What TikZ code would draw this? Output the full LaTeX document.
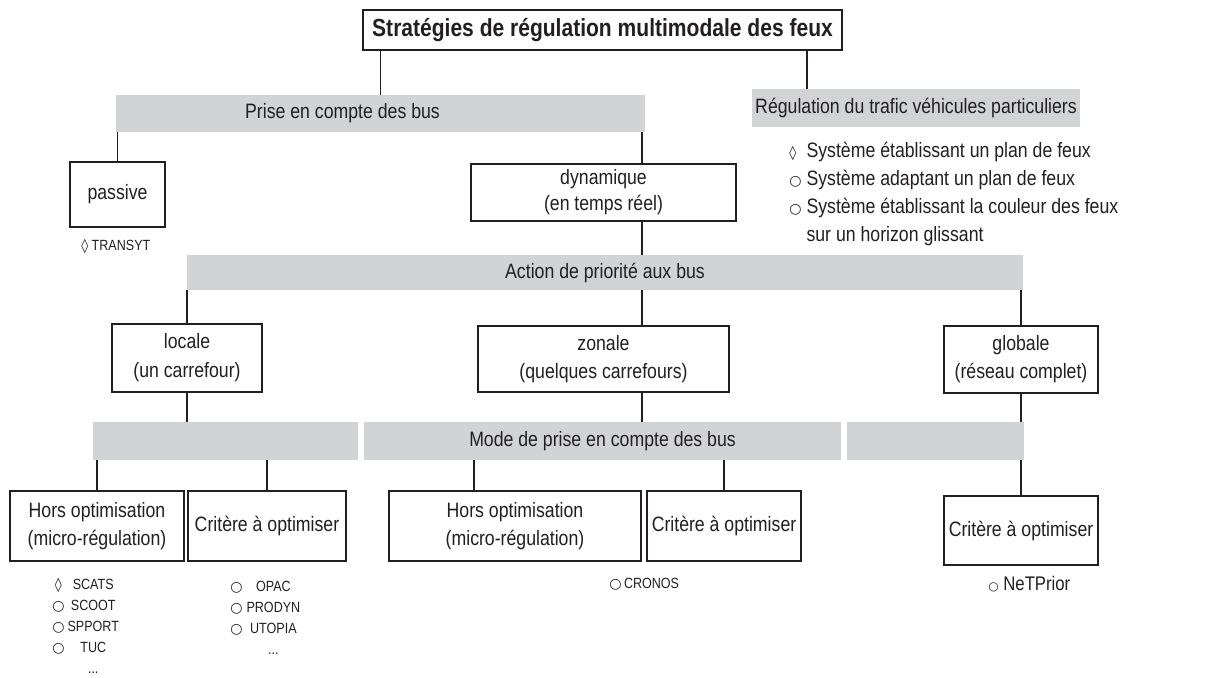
\documentclass[tikz,border=0pt]{standalone}
\usepackage{fontspec}
\setmainfont{Liberation Sans}[FakeStretch=0.85]
\newfontfamily\bulletfont{DejaVu Sans}

\definecolor{barfill}{RGB}{209,211,212}
\definecolor{ink}{RGB}{35,31,32}
\newdimen\px \px=0.025cm
\newcommand{\normaltext}{\fontsize{14.8}{19.9}\selectfont}
\newcommand{\smalltext}{\fontsize{10.5}{14.9}\selectfont}
\newcommand{\titletext}{\fontsize{17.6}{20}\selectfont\bfseries}
\newcommand{\rond}{{\bulletfont\fontsize{10}{10}\selectfont ○}}
\newcommand{\losange}{{\bulletfont\fontsize{10}{10}\selectfont ◊}}

\tikzstyle{boxnode} = [draw=ink,line width=1.1pt,fill=white,inner sep=0pt,align=center,font=\normaltext]
\tikzstyle{titlenode} = [boxnode,font=\titletext]
\tikzstyle{barnode} = [fill=barfill,inner sep=0pt,font=\normaltext]
\tikzstyle{listnode} = [inner sep=0pt,anchor=north west,font=\normaltext]
\tikzstyle{smallnode} = [inner sep=0pt,anchor=north west,font=\smalltext]
\tikzstyle{link} = [draw=ink,line width=1.1pt]

\begin{document}
\begin{tikzpicture}[x=0.025cm,y=-0.025cm,text=ink]
  \useasboundingbox (0,0) rectangle (1209,677);
  \coordinate (axe) at (642,0);
  \coordinate (axeH) at (474,0);
  \coordinate (axeV) at (807,0);

  % niveau 1
  \node[titlenode, minimum width=479\px, minimum height=40\px] (titre) at (602.5,30) {Stratégies de régulation multimodale des feux};
  \node[barnode, minimum width=529\px, minimum height=37\px,
    label={[xshift=-38\px,font=\normaltext,text=ink]center:Prise en compte des bus}] (prise) at (380.5,113.5) {};
  \node[barnode, minimum width=328\px, minimum height=38\px] (vp) at (916,108) {Régulation du trafic véhicules particuliers};
  \node[listnode] (vpliste) at (789,137.4) {%
    \begin{tabular}{@{}l@{\hspace{5\px}}l@{}}
      \losange & Système établissant un plan de feux\\
      \rond    & Système adaptant un plan de feux\\
      \rond    & Système établissant la couleur des feux\\
               & sur un horizon glissant
    \end{tabular}};

  % niveau 2
  \node[boxnode, minimum width=95\px, minimum height=65\px] (passive) at (117.5,194.5) {passive};
  \node[boxnode, minimum width=265\px, minimum height=57\px] (dyn) at (603.5,192.5) {dynamique\\[-2\px](en temps réel)};
  \node[smallnode, anchor=base west] (transyt) at (81,250) {\losange\ TRANSYT};
  \node[barnode, minimum width=836\px, minimum height=35\px] (action) at (605,272.5) {Action de priorité aux bus};

  % niveau 3
  \node[boxnode, minimum width=150\px, minimum height=68\px] (locale) at (187,358) {locale\\[1\px](un carrefour)};
  \node[boxnode, minimum width=251\px, minimum height=66\px] (zonale) at (603.5,359) {zonale\\(quelques carrefours)};
  \node[boxnode, minimum width=154\px, minimum height=67\px] (globale) at (1021,359.5) {globale\\(réseau complet)};
  \node[barnode, minimum width=265\px, minimum height=38\px] (modeA) at (225.5,441) {};
  \node[barnode, minimum width=477\px, minimum height=38\px] (modeB) at (602.5,441) {Mode de prise en compte des bus};
  \node[barnode, minimum width=177\px, minimum height=38\px] (modeC) at (935.5,441) {};

  % niveau 4
  \node[boxnode, minimum width=174\px, minimum height=70\px] (hors1) at (97,526) {Hors optimisation\\(micro-régulation)};
  \node[boxnode, minimum width=158\px, minimum height=70\px] (crit1) at (267,526) {Critère à optimiser};
  \node[boxnode, minimum width=252\px, minimum height=70\px] (hors2) at (515,526) {Hors optimisation\\(micro-régulation)};
  \node[boxnode, minimum width=154\px, minimum height=70\px] (crit2) at (724,526) {Critère à optimiser};
  \node[boxnode, minimum width=154\px, minimum height=69\px] (crit3) at (1021,530.5) {Critère à optimiser};

  \node[smallnode] (hors1liste) at (52,575) {%
    \begin{tabular}{@{}c@{\hspace{3\px}}c@{}}
      \losange & SCATS\\ \rond & SCOOT\\ \rond & SPPORT\\ \rond & TUC\\ & ...
    \end{tabular}};
  \node[smallnode] (crit1liste) at (230,577) {%
    \begin{tabular}{@{}c@{\hspace{4\px}}c@{}}
      \rond & OPAC\\ \rond & PRODYN\\ \rond & UTOPIA\\ & ...
    \end{tabular}};
  \node[smallnode, anchor=base west] (cronos) at (609,588) {\rond\,CRONOS};
  \node[listnode, anchor=base west, font=\fontsize{14}{16}\selectfont] (netprior) at (988,590) {{\bulletfont\fontsize{8.5}{10}\selectfont ○} NeTPrior};

  % liaisons
  \draw[link] (prise.north) -- (prise.north |- titre.south);
  \draw[link] (titre.south -| axeV) -- (vp.north -| axeV);
  \draw[link] (passive.north) -- (passive.north |- prise.south);
  \draw[link] (prise.south -| axe) -- (dyn.north -| axe);
  \draw[link] (dyn.south -| axe) -- (action.north -| axe);
  \draw[link] (locale.north) -- (locale.north |- action.south);
  \draw[link] (action.south -| axe) -- (zonale.north -| axe);
  \draw[link] (globale.north) -- (globale.north |- action.south);
  \draw[link] (locale.south) -- (locale.south |- modeA.north);
  \draw[link] (zonale.south -| axe) -- (modeB.north -| axe);
  \draw[link] (globale.south) -- (globale.south |- modeC.north);
  \draw[link] (hors1.north) -- (hors1.north |- modeA.south);
  \draw[link] (crit1.north) -- (crit1.north |- modeA.south);
  \draw[link] (modeB.south -| axeH) -- (hors2.north -| axeH);
  \draw[link] (crit2.north) -- (crit2.north |- modeB.south);
  \draw[link] (crit3.north) -- (crit3.north |- modeC.south);
\end{tikzpicture}
\end{document}
